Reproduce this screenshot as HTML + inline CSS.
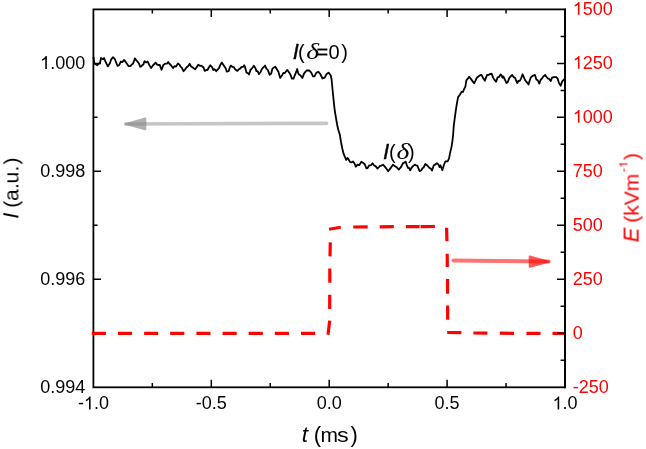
<!DOCTYPE html>
<html><head><meta charset="utf-8"><style>
html,body{margin:0;padding:0;background:#fff;width:646px;height:449px;overflow:hidden}
svg{display:block}
</style></head><body><svg width="646" height="449" viewBox="0 0 646 449"><g opacity="0.999"><rect x="93.4" y="9.4" width="471.60" height="377.90" fill="none" stroke="#000" stroke-width="1.8"/><path d="M152.35 387.3V383.10M152.35 9.4V13.60M211.30 387.3V379.70M211.30 9.4V17.00M270.25 387.3V383.10M270.25 9.4V13.60M329.20 387.3V379.70M329.20 9.4V17.00M388.15 387.3V383.10M388.15 9.4V13.60M447.10 387.3V379.70M447.10 9.4V17.00M506.05 387.3V383.10M506.05 9.4V13.60M93.4 333.31H97.60M93.4 279.33H101.00M93.4 225.34H97.60M93.4 171.36H101.00M93.4 117.37H97.60M93.4 63.39H101.00" stroke="#000" stroke-width="1.5" fill="none"/><g style="font-family:'Liberation Sans',sans-serif" font-size="18" fill="#000"><text x="40.16" y="392.90">0.994</text><text x="40.16" y="284.93">0.996</text><text x="40.16" y="176.96">0.998</text><path transform="translate(40.16 68.99) scale(0.00879 -0.00879)" d="M763 0L583 0L583 1147Q518 1085 412.5 1023Q307 961 223 930L223 1104Q374 1175 484.5 1273.5Q595 1372 639 1466L763 1466Z"/><text x="50.17" y="68.99">.000</text><text x="77.89" y="409.40">-</text><path transform="translate(83.89 409.40) scale(0.00879 -0.00879)" d="M763 0L583 0L583 1147Q518 1085 412.5 1023Q307 961 223 930L223 1104Q374 1175 484.5 1273.5Q595 1372 639 1466L763 1466Z"/><text x="93.89" y="409.40">.0</text><text x="195.79" y="409.40">-0.5</text><text x="316.69" y="409.40">0.0</text><text x="434.59" y="409.40">0.5</text><path transform="translate(552.49 409.40) scale(0.00879 -0.00879)" d="M763 0L583 0L583 1147Q518 1085 412.5 1023Q307 961 223 930L223 1104Q374 1175 484.5 1273.5Q595 1372 639 1466L763 1466Z"/><text x="562.50" y="409.40">.0</text></g><g style="font-family:'Liberation Sans',sans-serif" font-size="18" fill="#f00"><text x="572.80" y="392.70">-250</text><text x="572.80" y="338.71">0</text><text x="572.80" y="284.73">250</text><text x="572.80" y="230.74">500</text><text x="572.80" y="176.76">750</text><path transform="translate(572.80 122.77) scale(0.00879 -0.00879)" d="M763 0L583 0L583 1147Q518 1085 412.5 1023Q307 961 223 930L223 1104Q374 1175 484.5 1273.5Q595 1372 639 1466L763 1466Z"/><text x="582.81" y="122.77">000</text><path transform="translate(572.80 68.79) scale(0.00879 -0.00879)" d="M763 0L583 0L583 1147Q518 1085 412.5 1023Q307 961 223 930L223 1104Q374 1175 484.5 1273.5Q595 1372 639 1466L763 1466Z"/><text x="582.81" y="68.79">250</text><path transform="translate(572.80 14.80) scale(0.00879 -0.00879)" d="M763 0L583 0L583 1147Q518 1085 412.5 1023Q307 961 223 930L223 1104Q374 1175 484.5 1273.5Q595 1372 639 1466L763 1466Z"/><text x="582.81" y="14.80">500</text></g><text x="301.80" y="441.80" style="font-family:'Liberation Sans',sans-serif" font-size="22.5" font-style="italic">t</text><text x="313.70" y="442.10" style="font-family:'Liberation Sans',sans-serif" font-size="22">(</text><text x="320.60" y="441.80" style="font-family:'Liberation Sans',sans-serif" font-size="21">m</text><text x="336.90" y="441.80" style="font-family:'Liberation Sans',sans-serif" font-size="21" textLength="11.7" lengthAdjust="spacingAndGlyphs">s</text><text x="350.60" y="442.10" style="font-family:'Liberation Sans',sans-serif" font-size="22">)</text><g transform="translate(18.4 219.0) rotate(-90)" fill="#000"><text x="0.30" y="0.20" style="font-family:'Liberation Sans',sans-serif" font-size="22" font-style="italic">I</text><text x="11.30" y="0.00" style="font-family:'Liberation Sans',sans-serif" font-size="21">(</text><text x="18.00" y="0.00" style="font-family:'Liberation Sans',sans-serif" font-size="21">a</text><text x="30.00" y="0.00" style="font-family:'Liberation Sans',sans-serif" font-size="21">.</text><text x="35.60" y="0.00" style="font-family:'Liberation Sans',sans-serif" font-size="21">u</text><text x="47.50" y="0.00" style="font-family:'Liberation Sans',sans-serif" font-size="21">.</text><text x="54.60" y="0.00" style="font-family:'Liberation Sans',sans-serif" font-size="21">)</text></g><g transform="translate(638.6 242.5) rotate(-90)" fill="#f00"><text x="0.20" y="0.00" style="font-family:'Liberation Sans',sans-serif" font-size="22" font-style="italic">E</text><text x="19.80" y="0.00" style="font-family:'Liberation Sans',sans-serif" font-size="21">(</text><text x="26.80" y="0.00" style="font-family:'Liberation Sans',sans-serif" font-size="21">k</text><text x="37.30" y="0.00" style="font-family:'Liberation Sans',sans-serif" font-size="21">V</text><text x="51.30" y="0.00" style="font-family:'Liberation Sans',sans-serif" font-size="21">m</text><text x="70.30" y="-11.00" style="font-family:'Liberation Sans',sans-serif" font-size="12">-</text><path transform="translate(74.6 -11) scale(0.00586 -0.00586)" d="M763 0L583 0L583 1147Q518 1085 412.5 1023Q307 961 223 930L223 1104Q374 1175 484.5 1273.5Q595 1372 639 1466L763 1466Z"/><text x="82.50" y="0.00" style="font-family:'Liberation Sans',sans-serif" font-size="21">)</text></g><text x="292.80" y="58.70" style="font-family:'Liberation Sans',sans-serif" font-size="22" font-style="italic" stroke="#000" stroke-width="0.35">I</text><text x="298.10" y="58.50" style="font-family:'Liberation Sans',sans-serif" font-size="20">(</text><text transform="translate(306.20 59.20) scale(1.38 1.13)" style="font-family:'Liberation Serif',serif" font-size="20" font-style="italic">δ</text><text x="316.50" y="58.50" style="font-family:'Liberation Sans',sans-serif" font-size="20" stroke="#000" stroke-width="0.3">=</text><text x="328.40" y="58.50" style="font-family:'Liberation Sans',sans-serif" font-size="20">0</text><text x="341.30" y="58.50" style="font-family:'Liberation Sans',sans-serif" font-size="20">)</text><text x="382.90" y="158.70" style="font-family:'Liberation Sans',sans-serif" font-size="22.5" font-style="italic" stroke="#000" stroke-width="0.35">I</text><text x="389.00" y="158.60" style="font-family:'Liberation Sans',sans-serif" font-size="20">(</text><text transform="translate(396.40 159.00) scale(1.38 1.13)" style="font-family:'Liberation Serif',serif" font-size="20" font-style="italic">δ</text><text x="408.10" y="158.60" style="font-family:'Liberation Sans',sans-serif" font-size="20">)</text><polyline fill="none" stroke="#000" stroke-width="1.8" stroke-linejoin="round" points="93.5,56.8 94.2,63.3 95.7,64.2 97.3,65.2 98.8,63.6 100,63 101,58 102.2,58.7 103.1,59.3 104.1,58 105.3,61.1 107.8,66.4 110,63 111.2,59.3 113.1,57.1 114.9,59.3 117.4,65.8 119.2,65.2 120.8,61.5 122.3,62.1 124.2,59.9 125.7,62.1 128.5,66.1 130.4,66.1 131.5,64.9 133.1,63.3 135,58.4 136.2,60.2 138.7,63 140.2,66.7 141.5,66.4 142.4,64.9 143.3,64.6 144.6,61.1 146.1,62.4 147.6,61.5 149.2,64.9 151.1,68 152.9,65.5 155.7,62.7 157.2,64.6 158.8,65.2 159.7,64.9 161.6,69.8 163.4,64.9 165.3,63.6 167.2,63.6 168.2,61.9 169.2,63.5 170.8,65 173,68.1 174.5,66.2 176,66.6 177.9,63.5 179.5,64.7 180.7,66.9 181.9,67.8 183.5,71.2 185,69.6 186.6,67.2 188.1,66.2 189.7,63.8 191.2,66.6 193.4,68.1 195.2,69.3 196.8,66.9 198.3,64.7 200.2,65.9 201.4,65.6 203.3,67.2 204.8,70.9 206.2,70 207.5,70 208.8,67.5 210.3,65.3 211.9,66.9 213.4,70 214.7,69.3 216.2,71.2 217.8,69.3 219,68.1 220.6,64.4 221.8,62.5 223.3,64.7 224.6,66.9 225.5,67.8 226.7,71.5 228.6,71.2 229.8,67.5 230.8,65.6 232.6,66.9 233.9,67.2 235.1,69.3 237.3,70.9 238.8,69.3 240.4,68.4 241.6,66.9 243.2,66.9 244.2,65.2 244.9,66.8 246.5,72.6 247.7,73 249,74.5 250.5,69.9 252,68.3 253.9,65.8 255.5,68.3 256.4,71.1 257.6,71.1 258.9,74.2 260.4,72.3 262,68.9 265.1,65.5 266.3,68.6 267.8,69.9 269.7,74.8 271.2,73.6 272.5,68.6 275.3,66.8 276.8,69.2 278.4,71.7 280.2,77.9 282.1,75.2 283.4,73 284.8,73 287.3,69.9 288.8,72.1 290.4,74.6 291.9,78.6 293.5,78.6 295.3,74.2 297.2,69 298.4,73.9 300.3,75.2 302.4,78 304,73.6 306.5,70.5 309.2,70.5 311.1,72.4 313,76.4 314.5,76.4 316.4,72.7 318.5,71.9 320.4,74.3 322.5,78.5 324.7,77.6 326.4,74.3 328.6,72.6 330.8,75.5 331.6,79.5 332.3,87 333.1,95 334,104 334.8,111 336,118 337.2,125 338.2,129.5 339.8,134.5 341.1,142.5 342.3,148.5 343.4,153.2 344.6,156.2 346.2,159.9 347.4,158 348.4,159 349.9,161.8 351.5,162.4 353,161.5 354.2,163 355.8,166.7 357.6,164.6 359.2,165.2 361.4,161.8 362.9,162.7 364.8,164.2 366.3,168.3 367.6,168 369.1,165.5 371,165.2 372.5,163.3 374.1,165.5 375.6,166.1 377.5,168.6 379,167 379.9,165.9 381.4,165.6 383,164.7 384.8,166.6 386.7,169 388.2,171.2 390.4,168.4 392.9,164.7 394.7,165.9 396.6,167.2 398.7,169.6 400.9,167.2 403.1,163.1 404,162.8 405.6,161.6 406.8,165 408,167.8 409,167.8 410.2,170.3 411.7,167.5 413.3,165.9 414.8,164.7 416.2,165.3 417.3,165.7 419.6,171.1 421.3,170.2 422.7,168 423.6,167.5 425.4,164 427.6,165.7 429.4,168 430.7,168.4 432,170.6 433.8,165.3 435.6,164.4 436.9,163.1 438.3,164.4 439.6,167.1 440.5,165.3 442.3,170.2 444.1,164.4 445.4,161.3 447.6,161.3 449,158.6 450.3,151.9 451.6,146.6 452.5,140.3 453.1,135 453.8,125.3 455.6,111.8 456.9,103.3 458.1,97.1 459.9,94.7 461.7,91.6 463,92 463.9,89.5 465.4,86.7 466.3,80.5 467.6,78.9 469.1,76.8 470.7,78.6 472.5,81.1 474.1,83.3 475.3,81.1 476.6,78 478.4,76.5 480,75.2 481.5,74.9 483.1,78 484.9,80.8 486.1,77.4 487.1,74.9 488.6,74.9 490.2,74 491.7,73.7 493,77.4 494.5,79.9 496.1,81.7 497.6,77.4 499.2,76.8 500.5,74.4 501.5,75.2 502.5,77.7 503.4,76.5 505,79.9 506.5,83 507.7,82.3 509,78.6 510.5,76.5 512.1,74.9 513.6,77.1 515.2,78 516.1,80.5 517.3,83 518.6,80.8 519.8,80.8 521.1,78.3 522.6,74.3 523.8,77.1 525.1,80.2 526.9,82.3 528.5,84.5 529.7,80.5 530.7,77.7 532.2,76.1 533.4,75.5 534.8,74.9 535.6,76.8 536.2,79.4 537.7,80.2 539.3,83.6 540.5,80.2 542.1,78.3 543.3,76.5 545.2,74.9 546.4,76.8 547.6,78.3 549.2,78.9 550.7,81.1 552,77.7 553.8,77.1 556.3,77.1 557.6,78.6 558.8,82.6 560.7,85.7 562.2,81.4 563.7,79.9 564.7,78.5"/><path stroke="#f00" stroke-width="3.2" fill="none" d="M91.8 333.4L105.9 333.4M117.9 333.4L132.0 333.4M144.1 333.4L158.2 333.4M170.2 333.4L184.3 333.4M196.4 333.4L210.5 333.4M222.6 333.4L236.7 333.4M248.7 333.4L262.8 333.4M274.8 333.4L288.9 333.4M301.0 333.4L315.1 333.4M328.0 334.8L329.7 320.6M329.7 308.9L329.7 294.7M329.8 282.7L329.8 268.5M330.0 256.4L330.3 242.4M329.1 229.3L340.7 227.2M353.2 227.0L367.7 226.9M379.7 226.8L393.8 226.7M405.9 226.6L419.6 226.6M420.6 226.6L434.9 226.5M446.6 227.7L446.9 241.1M447.2 253.8L447.3 267.0M447.5 278.9L447.6 293.7M447.6 305.5L447.7 319.7M447.2 332.5L461.4 332.7M473.4 333.0L487.4 333.1M499.8 333.2L514.1 333.3M526.4 333.3L540.5 333.4M552.5 333.4L564.4 333.5"/><line x1="125.6" y1="124.0" x2="326.4" y2="123.3" stroke="#808080" stroke-opacity="0.45" stroke-width="3.7" stroke-linecap="round"/><g opacity="0.62"><path d="M126.0 124 L145.2 118.6 L145.2 129.2 Z" fill="#808080" stroke="#808080" stroke-width="2.2" stroke-linejoin="round"/></g><line x1="453.4" y1="260.4" x2="548.6" y2="261.6" stroke="#ff0000" stroke-opacity="0.55" stroke-width="4" stroke-linecap="round"/><g opacity="0.65"><path d="M548.6 261.7 L529.8 256.5 L529.8 266.7 Z" fill="#ff0000" stroke="#ff0000" stroke-width="2.2" stroke-linejoin="round"/></g><path d="M565.0 360.31H560.60M565.0 333.31H557.00M565.0 306.32H560.60M565.0 279.33H557.00M565.0 252.34H560.60M565.0 225.34H557.00M565.0 198.35H560.60M565.0 171.36H557.00M565.0 144.36H560.60M565.0 117.37H557.00M565.0 90.38H560.60M565.0 63.39H557.00M565.0 36.39H560.60" stroke="#000" stroke-width="1.5" fill="none"/><path d="M565.0 8.5V388.2" stroke="#000" stroke-width="1.8"/></g></svg></body></html>
